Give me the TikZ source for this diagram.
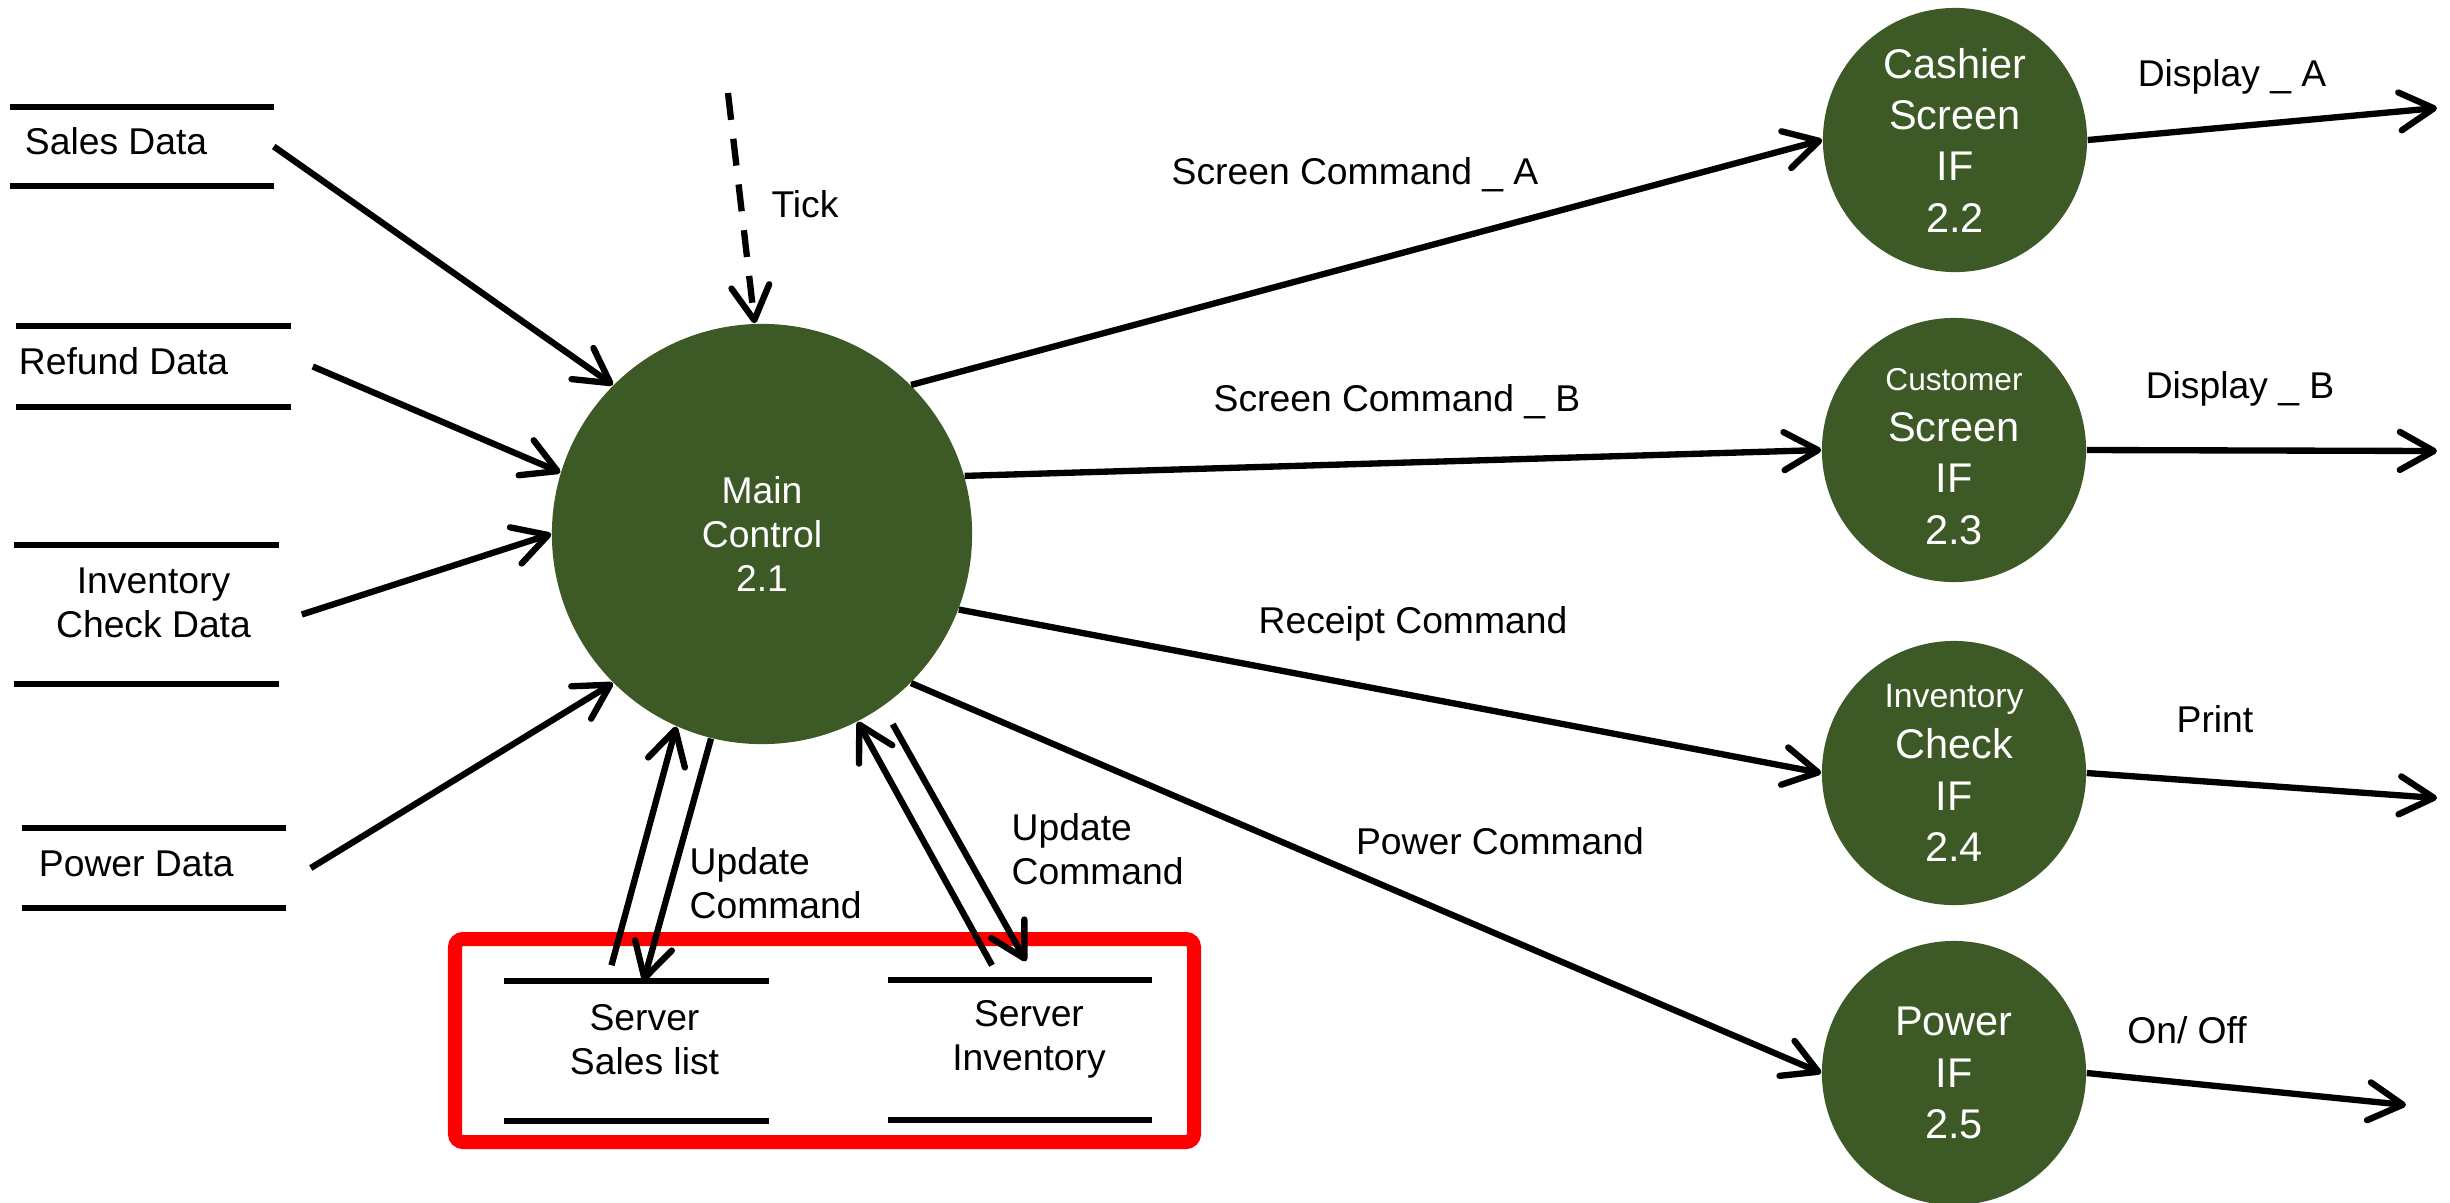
\documentclass[tikz,border=0pt]{standalone}
\usepackage{fontspec}
\setmainfont{Liberation Sans}
\usetikzlibrary{arrows.meta}
\definecolor{bubblegreen}{RGB}{60,89,38}
\definecolor{boxred}{RGB}{255,0,0}

\begin{document}
\begin{tikzpicture}[x=0.01cm, y=-0.01cm,
flow/.style = {line width=1.8pt,
        -{Straight Barb[length=3.4mm,width=3.8mm,round]}},
bubble/.style = {circle, fill=bubblegreen, text=white, inner sep=0pt, align=center},
bigbubble/.style = {bubble, minimum size=4.2cm, font=\fontsize{10.6}{12.5}\selectfont},
ifbubble/.style = {bubble, minimum size=2.64cm, font=\fontsize{11.8}{14.6}\selectfont},
store/.style = {inner sep=0pt},
storetext/.style = {inner sep=0pt, align=center, font=\fontsize{10.6}{12.5}\selectfont},
storeline/.style = {line width=1.8pt},
lbl/.style = {inner sep=0pt, align=left, font=\fontsize{10.6}{12.5}\selectfont}]

        \path[fill=white, use as bounding box] (0,0) rectangle (2450,1202);

        % processes
        \node[bigbubble] (main) at (762,534) {Main\\Control\\2.1};
        \node[ifbubble] (cashier) at (1955,140) {Cashier\\Screen\\IF\\2.2};
        \node[ifbubble] (customer) at (1954,450)
            {{\fontsize{9}{11}\selectfont\rule{0pt}{0.35cm}Customer}\\Screen\\IF\\2.3};
        \node[ifbubble] (invcheck) at (1954,773)
            {{\fontsize{9.6}{11.5}\selectfont Inventory}\\Check\\IF\\2.4};
        \node[ifbubble] (power) at (1954,1073) {Power\\IF\\2.5};

        % data stores
        \node[store, minimum width=2.62cm, minimum height=0.77cm] (sales) at (142,146.5) {};
        \node[store, minimum width=2.73cm, minimum height=0.79cm] (refund) at (153.5,366.5) {};
        \node[store, minimum width=2.63cm, minimum height=1.37cm] (invdata) at (146.5,614.5) {};
        \node[store, minimum width=2.62cm, minimum height=0.78cm] (powerdata) at (154,868) {};
        \node[store, minimum width=2.63cm, minimum height=1.38cm] (srvsales) at (636.5,1051) {};
        \node[store, minimum width=2.62cm, minimum height=1.38cm] (srvinv) at (1020,1050) {};

        \foreach \s in {sales,refund,invdata,powerdata,srvsales,srvinv}{
            \draw[storeline] (\s.north west) -- (\s.north east);
            \draw[storeline] (\s.south west) -- (\s.south east);
        }

        \node[storetext, anchor=west] (salestext) at ([xshift=0.14cm,yshift=0.05cm]sales.west) {Sales Data};
        \node[storetext, anchor=west] (refundtext) at ([xshift=0.02cm,yshift=0.05cm]refund.west) {Refund Data};
        \node[storetext] (invdatatext) at ([xshift=0.07cm,yshift=0.12cm]invdata.center) {Inventory\\Check Data};
        \node[storetext, anchor=west] (powerdatatext) at ([xshift=0.16cm,yshift=0.04cm]powerdata.west) {Power Data};
        \node[storetext] (srvsalestext) at ([xshift=0.08cm,yshift=0.11cm]srvsales.center) {Server\\Sales list};
        \node[storetext] (srvinvtext) at ([xshift=0.09cm,yshift=0.11cm]srvinv.center) {Server\\Inventory};

        \draw[boxred, line width=0.14cm, rounded corners=0.08cm] (455,939) rectangle (1194,1142);

        % inputs
        \draw[flow] (sales.east) -- (main.135);
        \draw[flow] ([xshift=0.22cm]refund.east) -- (main.163);
        \draw[flow] ([xshift=0.23cm]invdata.east) -- (main.west);
        \draw[flow] ([xshift=0.25cm]powerdata.east) -- (main.225);

        \coordinate (clock) at (728,93);
        \draw[flow, dash pattern=on 0.27cm off 0.19cm] (clock) -- (main.92);

        % commands
        \draw[flow] (main.45) -- (cashier.west);
        \draw[flow] (main.16) -- (customer.west);
        \draw[flow] (main.-21) -- (invcheck.west);
        \draw[flow] (main.-45) -- (power.west);

        % server stores
        \draw[flow] ([xshift=-0.25cm,yshift=0.16cm]srvsales.north) -- (main.246);
        \draw[flow] (main.256) -- ([xshift=0.07cm]srvsales.north);
        \draw[flow] ([xshift=-0.28cm,yshift=0.15cm]srvinv.north) -- (main.-63);
        \draw[flow, shorten <=0.2cm] (main.-55) -- ([xshift=0.06cm,yshift=0.19cm]srvinv.north);

        % outputs
        \coordinate (scrA) at (2437,108);
        \coordinate (scrB) at (2437,451);
        \coordinate (printer) at (2437,798);
        \coordinate (switch) at (2406,1105);
        \draw[flow] (cashier.east) -- (scrA);
        \draw[flow] (customer.east) -- (scrB);
        \draw[flow] (invcheck.east) -- (printer);
        \draw[flow] (power.east) -- (switch);

        % flow names
        \node[lbl] (ticklbl) at (805,204) {Tick};
        \node[lbl] (cmdA) at (1355,175) {Screen Command \_ A};
        \node[lbl] (cmdB) at (1397,402) {Screen Command \_ B};
        \node[lbl] (rcptcmd) at (1413,624) {Receipt Command};
        \node[lbl] (pwrcmd) at (1500,841) {Power Command};
        \node[lbl, anchor=west] (upd1) at (689,883) {Update\\Command};
        \node[lbl, anchor=west] (upd2) at (1011,849) {Update\\Command};
        \node[lbl] (dispAlbl) at (2232,77) {Display \_ A};
        \node[lbl] (dispBlbl) at (2240,389) {Display \_ B};
        \node[lbl] (printlbl) at (2215,719) {Print};
        \node[lbl] (onofflbl) at (2187,1030) {On/ Off};

    \end{tikzpicture}
\end{document}
